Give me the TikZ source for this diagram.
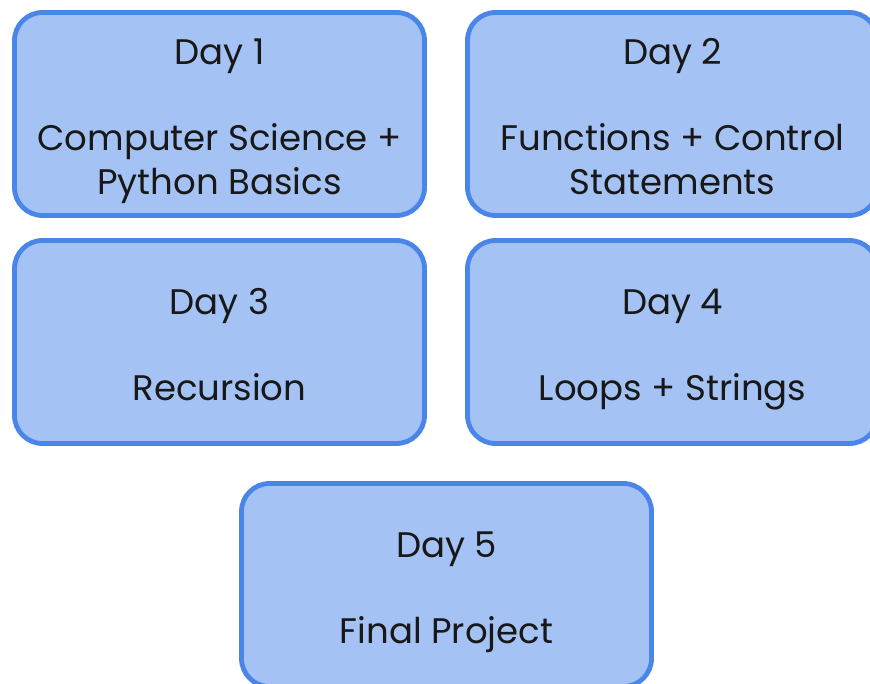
\documentclass[tikz,border=0pt]{standalone}
\usepackage{fontspec}
\setmainfont{Poppins}
\usepackage{xcolor}
\definecolor{cardBlue}{RGB}{164,194,244}
\definecolor{cardEdge}{RGB}{74,134,232}
\definecolor{cardInk}{RGB}{24,24,24}
\newcommand{\DayLabel}[2]{\rule{0pt}{44.8pt}Day #1\\[42pt]#2\strut}
\tikzset{
  dayBox/.style={rounded corners=28pt,draw=cardEdge,fill=cardBlue,line width=4.8pt,
    minimum width=410pt,minimum height=203pt,inner sep=0pt,align=center,
    font=\fontsize{35.5}{44}\selectfont\color{cardInk}}
}

\begin{document}
\begin{tikzpicture}[x=1pt,y=-1pt]
\useasboundingbox (0,0) rectangle (870,684);
\clip (0,0) rectangle (870,684);
\node[dayBox] (day1) at (219.5,114) {\DayLabel{1}{Computer Science +\\Python Basics}};
\node[dayBox] (day2) at (672.5,114) {\DayLabel{2}{Functions + Control\\Statements}};
\node[dayBox] (day3) at (219.5,342) {\DayLabel{3}{Recursion}};
\node[dayBox] (day4) at (672.5,342) {\DayLabel{4}{Loops + Strings}};
\node[dayBox] (day5) at (446.5,585) {\DayLabel{5}{Final Project}};
\end{tikzpicture}
\end{document}
